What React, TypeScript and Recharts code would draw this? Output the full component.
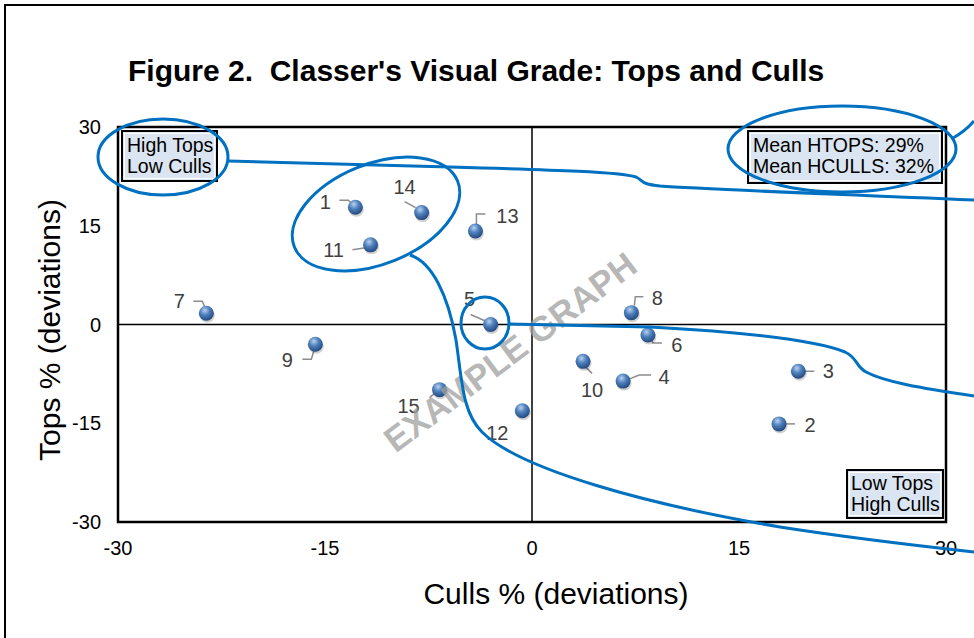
import React from 'react'
import { ScatterChart, Scatter, XAxis, YAxis, ReferenceLine, ReferenceArea } from 'recharts'

// ids of the lots, culls % deviation (x), tops % deviation (y)
const lotIds = [1, 2, 3, 4, 5, 6, 7, 8, 9, 10, 11, 12, 13, 14, 15]
const cullsDev = [-12.8, 17.9, 19.3, 6.6, -3.0, 8.4, -23.6, 7.2, -15.7, 3.7, -11.7, -0.7, -4.1, -8.0, -6.7]
const topsDev = [17.8, -15.1, -7.1, -8.6, 0.0, -1.6, 1.7, 1.8, -3.0, -5.6, 12.1, -13.1, 14.2, 17.0, -9.9]
const axisTicks = [-30, -15, 0, 15, 30]

const chartData = lotIds.map((id, i) => ({ id, x: cullsDev[i], y: topsDev[i] }))

// where each number label sits relative to its point, plus the grey leader line
const labelLayout: Record<number, { dx: number; dy: number; leader: number[][] }> = {
  1: { dx: -30, dy: -5, leader: [[-16, -7], [-7, -7], [-2, -2]] },
  2: { dx: 31, dy: 1, leader: [[6, 0], [16, 0]] },
  3: { dx: 30, dy: 0, leader: [[6, 0], [16, 0]] },
  4: { dx: 41, dy: -4, leader: [[6, -2], [16, -6], [28, -6]] },
  5: { dx: -21, dy: -26, leader: [[-20, -10], [-4, -3]] },
  6: { dx: 29, dy: 10, leader: [[3, 4], [5, 8], [14, 8]] },
  7: { dx: -27, dy: -12, leader: [[-13, -12], [-4, -12], [-1, -5]] },
  8: { dx: 26, dy: -15, leader: [[12, -16], [4, -16], [3, -7]] },
  9: { dx: -28, dy: 16, leader: [[-13, 15], [-4, 15], [-1, 5]] },
  10: { dx: 9, dy: 29, leader: [[1, 4], [9, 12]] },
  11: { dx: -37, dy: 5, leader: [[-18, 5], [-5, 3]] },
  12: { dx: -25, dy: 22, leader: [] },
  13: { dx: 32, dy: -15, leader: [[10, -17], [1, -17], [1, -5]] },
  14: { dx: -17, dy: -26, leader: [[-17, -11], [-6, -5]] },
  15: { dx: -31, dy: 16, leader: [[-10, 8], [-4, 3]] },
}

const FONT = '"Liberation Sans", Arial, sans-serif'

function Ball(props: any) {
  const { cx, cy, payload } = props
  if (cx == null || cy == null) return null
  const lay = labelLayout[payload.id]
  const pts = lay.leader.map(p => `${cx + p[0]},${cy + p[1]}`).join(' ')
  return (
    <g>
      {lay.leader.length > 0 && (
        <polyline points={pts} fill="none" stroke="#8c8c8c" strokeWidth={1.5} />
      )}
      <circle cx={cx + 1} cy={cy + 2} r={7.5} fill="rgba(0,0,0,0.18)" />
      <circle cx={cx} cy={cy} r={7.5} fill="url(#ballGrad)" />
      <text
        x={cx + lay.dx}
        y={cy + lay.dy}
        textAnchor="middle"
        dominantBaseline="central"
        fontSize={20}
        fontFamily={FONT}
        fill="#404040"
      >
        {payload.id}
      </text>
    </g>
  )
}

const boxStyle: React.CSSProperties = {
  position: 'absolute',
  background: '#dbe5f1',
  border: '2px solid #000',
  outline: '1px solid #fff',
  outlineOffset: '-4px',
  fontFamily: FONT,
  fontSize: 19.5,
  lineHeight: '21px',
  color: '#000',
  padding: '3px 0 0 4px',
  boxSizing: 'border-box',
  whiteSpace: 'nowrap',
  overflow: 'hidden',
}

export default function App() {
  return (
    <div style={{ position: 'absolute', left: 0, top: 0, width: 974, height: 638, overflow: 'hidden', background: '#fff' }}>
      <svg width={0} height={0} style={{ position: 'absolute' }}>
        <defs>
          <radialGradient id="ballGrad" cx="40%" cy="30%" r="70%">
            <stop offset="0%" stopColor="#b9d1f0" />
            <stop offset="45%" stopColor="#4f81bd" />
            <stop offset="100%" stopColor="#23497f" />
          </radialGradient>
        </defs>
      </svg>

      {/* outer frame */}
      <div style={{ position: 'absolute', left: 4, top: 4, width: 1100, height: 800, border: '2px solid #000' }} />

      <div style={{ position: 'absolute', left: 128, top: 54, fontFamily: FONT, fontWeight: 700, fontSize: 30, whiteSpace: 'pre', color: '#000' }}>
        {"Figure 2.  Classer's Visual Grade: Tops and Culls"}
      </div>

      <div style={{ position: 'absolute', left: 0, top: 0 }}>
        <ScatterChart width={974} height={638} margin={{ top: 127, right: 28, bottom: 86, left: 58 }}>
          <XAxis
            type="number"
            dataKey="x"
            domain={[-30, 30]}
            ticks={axisTicks}
            axisLine={false}
            tickLine={false}
            tickSize={0}
            tickMargin={19}
            height={30}
            tick={{ fontSize: 20, fill: '#000', fontFamily: FONT }}
          />
          <YAxis
            type="number"
            dataKey="y"
            domain={[-30, 30]}
            ticks={axisTicks}
            axisLine={false}
            tickLine={false}
            tickSize={0}
            tickMargin={17}
            width={60}
            tick={{ fontSize: 20, fill: '#000', fontFamily: FONT }}
          />
          <ReferenceArea x1={-30} x2={30} y1={-30} y2={30} fill="none" stroke="#000" strokeWidth={2.5} />
          <ReferenceLine x={0} stroke="#000" strokeWidth={1.5} />
          <ReferenceLine y={0} stroke="#000" strokeWidth={1.5} />
          <Scatter data={chartData} shape={Ball} isAnimationActive={false} />
        </ScatterChart>
      </div>

      <div style={{ position: 'absolute', left: 50, top: 330, transform: 'translate(-50%, -50%) rotate(-90deg)', fontFamily: FONT, fontSize: 30, whiteSpace: 'nowrap', color: '#000' }}>
        Tops % (deviations)
      </div>
      <div style={{ position: 'absolute', left: 556, top: 594, transform: 'translate(-50%, -50%)', fontFamily: FONT, fontSize: 30, whiteSpace: 'nowrap', color: '#000' }}>
        Culls % (deviations)
      </div>

      {/* quadrant notes */}
      <div style={{ ...boxStyle, left: 121, top: 130, width: 97, height: 52 }}>High Tops<br />Low Culls</div>
      <div style={{ ...boxStyle, left: 747, top: 130, width: 196, height: 54 }}>Mean HTOPS: 29%<br />Mean HCULLS: 32%</div>
      <div style={{ ...boxStyle, left: 846, top: 469, width: 98, height: 50, padding: '2px 0 0 3px' }}>Low Tops<br />High Culls</div>

      {/* hand-drawn highlight marks and watermark */}
      <svg width={974} height={638} style={{ position: 'absolute', left: 0, top: 0, pointerEvents: 'none' }}>
        <text
          x={510}
          y={352}
          transform="rotate(-37 510 352)"
          textAnchor="middle"
          dominantBaseline="central"
          fontFamily={FONT}
          fontWeight={700}
          fontSize={35}
          fill="rgba(160,160,160,0.75)"
        >
          EXAMPLE GRAPH
        </text>
        <g fill="none" stroke="#0070c0" strokeWidth={3}>
          <ellipse cx={163} cy={157} rx={65} ry={38} />
          <path d="M228,161 L450,167 C560,170 620,172 636,177 C644,181 640,184 660,186 C700,189 760,191 974,200" />
          <ellipse cx={376} cy={214} rx={88} ry={50} transform="rotate(-22 376 214)" />
          <path d="M410,255 C432,262 448,295 456,340 C462,380 462,412 482,432 C520,470 650,505 780,527 C850,538 920,546 974,552" />
          <ellipse cx={485} cy={323} rx={24} ry={26} />
          <path d="M509,324 L650,327 C760,333 820,342 845,352 C858,358 855,366 866,372 C885,382 920,388 974,396" />
          <ellipse cx={842} cy={149} rx={114} ry={43} />
          <path d="M953,138 C962,133 968,128 974,121" />
        </g>
      </svg>
    </div>
  )
}
